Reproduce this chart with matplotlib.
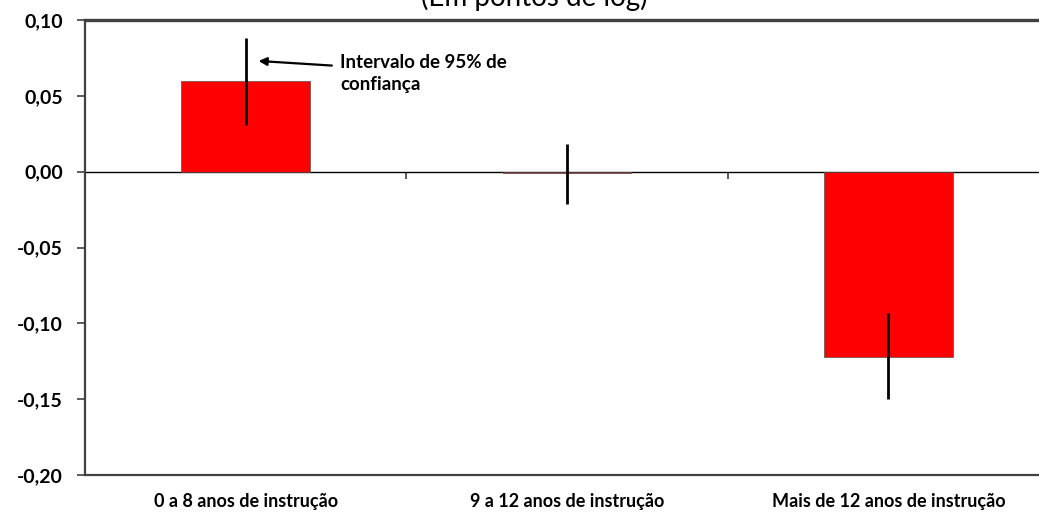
import matplotlib
matplotlib.use("Agg")
import matplotlib.pyplot as plt
from matplotlib.ticker import FuncFormatter

plt.rcParams['font.family'] = ['Lato', 'DejaVu Sans']

# dados
categorias = ['0 a 8 anos de instrução', '9 a 12 anos de instrução', 'Mais de 12 anos de instrução']
valores = [0.060, -0.0006, -0.122]
ic_sup = [0.088, 0.018, -0.093]
ic_inf = [0.031, -0.021, -0.150]
yticks = [0.10, 0.05, 0.00, -0.05, -0.10, -0.15, -0.20]

fig = plt.figure(figsize=(10.39, 5.12), dpi=100)
ax = fig.add_axes([85 / 1039, 37 / 512, 964 / 1039, 455 / 512])

x = list(range(len(categorias)))
ax.bar(x, valores, width=0.4, color='#ff0000', edgecolor='#505050', linewidth=0.5, zorder=2)

# intervalo de confiança
err_lo = [v - lo for v, lo in zip(valores, ic_inf)]
err_hi = [hi - v for v, hi in zip(valores, ic_sup)]
ax.errorbar(x, valores, yerr=[err_lo, err_hi], fmt='none', ecolor='black',
            elinewidth=2, capsize=0, zorder=3)

ax.set_xlim(-0.5, 2.5)
ax.set_ylim(-0.20, 0.10)
ax.set_yticks(yticks)
ax.yaxis.set_major_formatter(FuncFormatter(lambda v, p: f'{v:.2f}'.replace('.', ',').replace('-0,00', '0,00')))
ax.tick_params(axis='y', direction='out', length=6, width=1.2, color='#404040', pad=10, labelsize=14)
for lb in ax.get_yticklabels():
    lb.set_fontweight('bold')

ax.set_xticks(x)
ax.set_xticklabels(categorias, fontsize=13, fontweight='bold')
ax.tick_params(axis='x', length=0, pad=13)

for s in ['left', 'bottom', 'right']:
    ax.spines[s].set_color('#404040')
    ax.spines[s].set_linewidth(1.6)
ax.spines['top'].set_color('#404040')
ax.spines['top'].set_linewidth(2.4)

# eixo no zero com marcas entre categorias
ymin, ymax = ax.get_ylim()
sec = ax.secondary_xaxis((0 - ymin) / (ymax - ymin))
sec.set_xticks([0.5, 1.5])
sec.set_xticklabels([])
sec.tick_params(direction='in', length=5, width=1.2, color='#404040')
for s in sec.spines.values():
    s.set_linewidth(1.0)
    s.set_color('black')

ax.annotate('Intervalo de 95% de\nconfiança', xy=(0.04, 0.073), xytext=(0.294, 0.065),
            fontsize=13.5, fontweight='bold', va='center', ha='left', linespacing=1.35,
            arrowprops=dict(arrowstyle='-|>', color='black', lw=1.6, mutation_scale=12,
                            shrinkA=4, shrinkB=0, relpos=(0, 0.68)))

fig.text(534 / 1039, 1 - 6 / 512, '(Em pontos de log)', fontsize=20, ha='center', va='baseline')

fig.savefig('out.png', dpi=100)
